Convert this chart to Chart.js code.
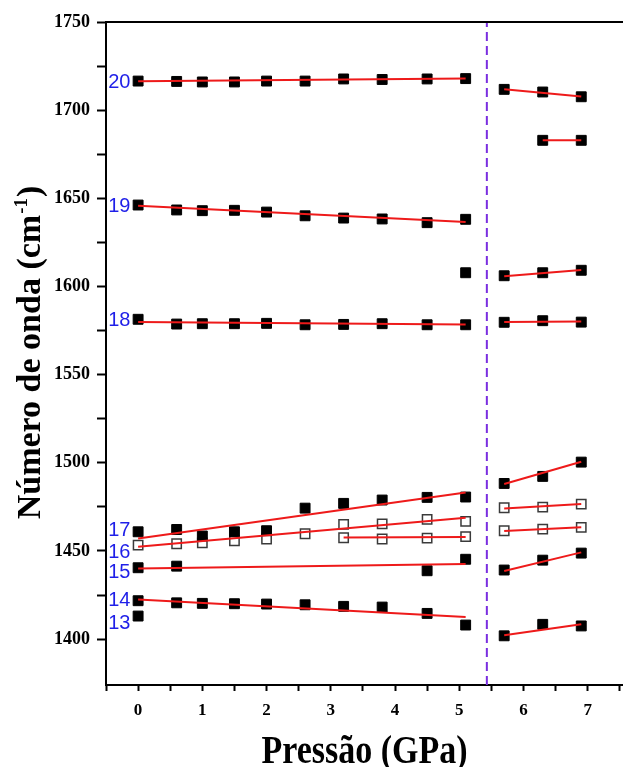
<!DOCTYPE html>
<html>
<head>
<meta charset="utf-8">
<title>Número de onda x Pressão</title>
<script src="https://cdn.jsdelivr.net/npm/chart.js@4.4.0/dist/chart.umd.min.js"></script>
<style>
  html, body { margin: 0; padding: 0; background: #fff; }
  #wrap { width: 623px; height: 767px; }
</style>
</head>
<body>
<div id="wrap"><canvas id="grafico" width="623" height="767"></canvas></div>
<script>
// pressões medidas (GPa), antes e depois da transição
let pressao = [0, 0.6, 1, 1.5, 2, 2.6, 3.2, 3.8, 4.5, 5.1];
let pressaoAlta = [5.7, 6.3, 6.9];

// números de onda (cm-1)
let banda20 = [1716.5, 1716.3, 1716.0, 1716.0, 1716.5, 1716.5, 1717.7, 1717.4, 1717.7, 1717.9];
let banda20Alta = [1711.8, 1710.3, 1707.6];
let banda20bAlta = [null, 1682.9, 1682.9];
let banda19 = [1646.2, 1643.4, 1643.0, 1643.2, 1642.2, 1640.1, 1638.8, 1638.3, 1636.2, 1638.1];
let banda19b = [null, null, null, null, null, null, null, null, null, 1607.8];
let banda19Alta = [1606.1, 1607.8, 1609.2];
let banda18 = [1581.4, 1578.7, 1578.9, 1578.9, 1579.1, 1578.3, 1578.5, 1578.9, 1578.3, 1578.3];
let banda18Alta = [1579.7, 1580.6, 1579.8];
let banda17 = [1460.9, 1462.2, 1458.5, 1460.9, 1461.5, 1474.3, 1477.0, 1478.9, 1480.4, 1480.6];
let banda17Alta = [1488.3, 1492.3, 1500.4];
let banda16 = [1453.3, 1454.1, 1454.6, 1455.8, 1456.8, 1459.8, 1465.1, 1465.4, 1467.9, 1466.8];
let banda16b = [null, null, null, null, null, null, 1457.5, 1456.8, 1457.3, 1458.1];
let banda16Alta = [1474.5, 1474.9, 1476.6];
let banda16bAlta = [1461.5, 1462.4, 1463.4];
let banda15 = [1440.5, 1441.4, null, null, null, null, null, null, 1438.8, 1445.3];
let banda15Alta = [1439.2, 1444.8, 1448.8];
let banda14 = [1421.8, 1420.6, 1420.3, 1420.1, 1419.9, 1419.5, 1418.6, 1418.2, 1414.6, 1408.0];
let banda14Alta = [1401.9, 1408.4, 1407.5];
let banda13 = [1413.1, null, null, null, null, null, null, null, null, null];

// retas de ajuste (extremos)
let ajustes = [
    [[0, 1716.4], [5.1, 1717.9]],
    [[5.7, 1711.8], [6.9, 1707.8]],
    [[6.3, 1682.9], [6.9, 1682.9]],
    [[0, 1645.8], [5.1, 1636.6]],
    [[5.7, 1605.8], [6.9, 1609.3]],
    [[0, 1579.8], [5.1, 1578.4]],
    [[5.7, 1579.9], [6.9, 1580.2]],
    [[0, 1457.1], [5.1, 1483.2]],
    [[5.7, 1488.0], [6.9, 1500.6]],
    [[0, 1452.4], [5.1, 1468.8]],
    [[3.2, 1457.7], [5.1, 1458.0]],
    [[5.7, 1474.1], [6.9, 1476.6]],
    [[5.7, 1461.3], [6.9, 1463.5]],
    [[0, 1440.1], [5.1, 1442.6]],
    [[5.7, 1438.7], [6.9, 1449.2]],
    [[0, 1422.5], [5.1, 1412.6]],
    [[5.7, 1402.2], [6.9, 1408.4]]
];

// transição de fase (linha tracejada)
let transicao = 5.43;

// rótulos das bandas
let rotulos = ['20', '19', '18', '17', '16', '15', '14', '13'];
let rotulosY = [1716.5, 1646.2, 1581.4, 1462.4, 1450.0, 1438.6, 1422.7, 1409.3];
let rotuloX = -0.12;

// eixos
let xMin = -0.5, xMax = 7.55;
let yMin = 1374, yMax = 1750;
let xTicks = [-0.5, 0, 0.5, 1, 1.5, 2, 2.5, 3, 3.5, 4, 4.5, 5, 5.5, 6, 6.5, 7, 7.5];
let yTicks = [1400, 1425, 1450, 1475, 1500, 1525, 1550, 1575, 1600, 1625, 1650, 1675, 1700, 1725, 1750];

let pontos = (xs, ys) => xs.map((x, i) => ({x: x, y: ys[i]})).filter(p => p.y !== null);

let cheio = (xs, ys) => ({
    data: pontos(xs, ys), pointStyle: 'rect', pointRadius: 7, pointHoverRadius: 7,
    backgroundColor: '#000', borderColor: '#000', borderWidth: 1, showLine: false, order: 2
});
let vazio = (xs, ys) => ({
    data: pontos(xs, ys), pointStyle: 'rect', pointRadius: 6.6, pointHoverRadius: 6.6,
    backgroundColor: '#fff', borderColor: '#3a3a3a', borderWidth: 1.5, showLine: false, order: 2
});
let ajuste = (seg) => ({
    data: seg.map(p => ({x: p[0], y: p[1]})), showLine: true, borderColor: '#ee1a1a',
    borderWidth: 2, pointRadius: 0, order: 1
});

let datasets = [
    cheio(pressao, banda20), cheio(pressaoAlta, banda20Alta), cheio(pressaoAlta, banda20bAlta),
    cheio(pressao, banda19), cheio(pressao, banda19b), cheio(pressaoAlta, banda19Alta),
    cheio(pressao, banda18), cheio(pressaoAlta, banda18Alta),
    cheio(pressao, banda17), cheio(pressaoAlta, banda17Alta),
    vazio(pressao, banda16), vazio(pressao, banda16b), vazio(pressaoAlta, banda16Alta), vazio(pressaoAlta, banda16bAlta),
    cheio(pressao, banda15), cheio(pressaoAlta, banda15Alta),
    cheio(pressao, banda14), cheio(pressaoAlta, banda14Alta),
    cheio(pressao, banda13)
];
ajustes.forEach(seg => datasets.push(ajuste(seg)));
datasets.push({
    data: [{x: transicao, y: yMin}, {x: transicao, y: yMax}], showLine: true,
    borderColor: '#7a2ee0', borderWidth: 2, borderDash: [9, 5], pointRadius: 0, order: 3
});

let fonteTick = (size) => ({family: '"Liberation Serif", "Times New Roman", serif', weight: 'bold', size: size});

// títulos, borda superior e rótulos azuis
let extras = {
    id: 'extras',
    afterDraw: (chart) => {
        let ctx = chart.ctx;
        let area = chart.chartArea;
        let sx = chart.scales.x;
        let sy = chart.scales.y;
        ctx.save();

        ctx.strokeStyle = '#000';
        ctx.lineWidth = 2;
        ctx.beginPath();
        ctx.moveTo(area.left - 1, area.top);
        ctx.lineTo(area.right, area.top);
        ctx.stroke();

        ctx.fillStyle = '#1f1fe8';
        ctx.font = '20px "Liberation Sans", Arial, sans-serif';
        ctx.textAlign = 'right';
        ctx.textBaseline = 'middle';
        rotulos.forEach((r, i) => {
            ctx.fillText(r, sx.getPixelForValue(rotuloX), sy.getPixelForValue(rotulosY[i]) + 1);
        });

        ctx.fillStyle = '#000';
        ctx.textBaseline = 'alphabetic';

        // título do eixo x
        ctx.save();
        ctx.translate((area.left + area.right) / 2, 763);
        ctx.scale(1, 1.15);
        ctx.font = 'bold 34px "Liberation Serif", "Times New Roman", serif';
        ctx.textAlign = 'center';
        ctx.fillText('Pressão (GPa)', 0, 0);
        ctx.restore();

        // título do eixo y com expoente
        ctx.save();
        ctx.translate(40, (area.top + area.bottom) / 2);
        ctx.rotate(-Math.PI / 2);
        ctx.textAlign = 'left';
        let principal = 'Número de onda (cm';
        let expoente = '-1';
        let fecha = ')';
        ctx.font = 'bold 34px "Liberation Serif", "Times New Roman", serif';
        let w1 = ctx.measureText(principal).width;
        let w3 = ctx.measureText(fecha).width;
        ctx.font = 'bold 19px "Liberation Serif", "Times New Roman", serif';
        let w2 = ctx.measureText(expoente).width;
        let x0 = -(w1 + w2 + w3) / 2;
        ctx.font = 'bold 34px "Liberation Serif", "Times New Roman", serif';
        ctx.fillText(principal, x0, 0);
        ctx.font = 'bold 19px "Liberation Serif", "Times New Roman", serif';
        ctx.fillText(expoente, x0 + w1 + 1, -13);
        ctx.font = 'bold 34px "Liberation Serif", "Times New Roman", serif';
        ctx.fillText(fecha, x0 + w1 + w2 + 2, 0);
        ctx.restore();

        ctx.restore();
    }
};

let grafico = new Chart(document.getElementById('grafico'), {
    type: 'scatter',
    data: {datasets: datasets},
    options: {
        responsive: false,
        animation: false,
        layout: {autoPadding: false, padding: {top: 22, right: 0, left: 0, bottom: 0}},
        plugins: {legend: {display: false}, tooltip: {enabled: false}},
        scales: {
            x: {
                type: 'linear', min: xMin, max: xMax,
                afterBuildTicks: s => { s.ticks = xTicks.map(v => ({value: v})); },
                afterFit: s => { s.height = 82; s.paddingLeft = 0; s.paddingRight = 0; },
                ticks: {
                    callback: v => Number.isInteger(v) ? String(v) : '',
                    font: fonteTick(17), color: '#000', padding: 9, maxRotation: 0, autoSkip: false
                },
                grid: {drawOnChartArea: false, tickLength: 6, color: '#000', tickWidth: 2},
                border: {color: '#000', width: 2}
            },
            y: {
                type: 'linear', min: yMin, max: yMax,
                afterBuildTicks: s => { s.ticks = yTicks.map(v => ({value: v})); },
                afterFit: s => { s.width = 106; },
                ticks: {
                    callback: v => v % 50 === 0 ? String(v) : '',
                    font: fonteTick(18), color: '#000', padding: 7, autoSkip: false
                },
                grid: {drawOnChartArea: false, tickLength: 9, color: '#000', tickWidth: 2},
                border: {color: '#000', width: 2}
            }
        }
    },
    plugins: [extras]
});
</script>
</body>
</html>
